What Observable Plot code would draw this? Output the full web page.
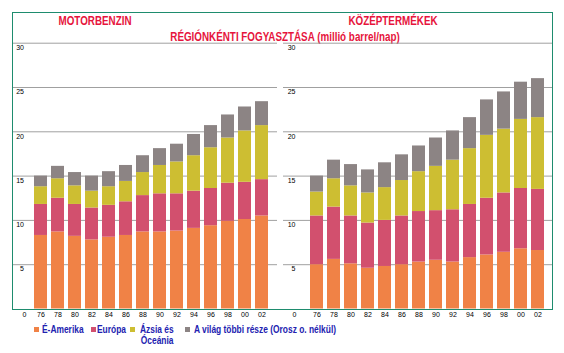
<!DOCTYPE html>
<html><head><meta charset="utf-8">
<script src="https://cdn.jsdelivr.net/npm/d3@7"></script>
<script src="https://cdn.jsdelivr.net/npm/@observablehq/plot@0.6"></script>
<style>
body{margin:0;background:#fff;}
#c{position:relative;width:564px;height:353px;overflow:hidden;font-family:"Liberation Sans",Arial,sans-serif;}
.t{position:absolute;font-weight:bold;color:#e6143c;font-size:12px;white-space:nowrap;transform:translateX(-50%) scaleX(0.82);line-height:1;}
.frame{position:absolute;left:12px;top:12px;width:539px;height:296px;border:1px solid #1e8c6e;pointer-events:none;}
.p{position:absolute;top:40px;}
.lg{position:absolute;font-weight:bold;color:#2222b0;font-size:10.5px;line-height:11px;white-space:nowrap;transform:scaleX(0.8);transform-origin:left top;}
.sq{position:absolute;width:5px;height:5px;}
</style>
</head><body>
<div id="c">
  <div class="t" style="left:95px;top:15px;">MOTORBENZIN</div>
  <div class="t" style="left:393px;top:15px;">KÖZÉPTERMÉKEK</div>
  <div class="t" style="left:285px;top:31px;">RÉGIÓNKÉNTI FOGYASZTÁSA (millió barrel/nap)</div>
  <div id="p1" class="p" style="left:12px;"></div>
  <div id="p2" class="p" style="left:282px;"></div>
  <div class="frame"></div>
  <div id="legend"></div>
</div>
<script>
const years = ["76","78","80","82","84","86","88","90","92","94","96","98","00","02"];
const regions = ["É-Amerika","Európa","Ázsia és Óceánia","A világ többi része (Orosz o. nélkül)"];
const colors = ["#f08246","#d2506e","#cdbe32","#8c8484"];
const yTicks = [5,10,15,20,25,30];

// MOTORBENZIN (million barrels/day)
const motorNA   = [8.3,8.7,8.2,7.8,8.1,8.3,8.7,8.7,8.8,9.1,9.4,9.9,10.1,10.5];
const motorEU   = [3.5,3.8,3.6,3.6,3.6,3.8,4.1,4.3,4.2,4.2,4.2,4.3,4.2,4.1];
const motorAsia = [2.0,2.2,2.1,1.9,2.1,2.3,2.6,3.2,3.6,4.0,4.6,5.1,5.8,6.1];
const motorRest = [1.2,1.4,1.5,1.7,1.7,1.8,1.9,1.9,2.0,2.4,2.5,2.6,2.7,2.7];

// KÖZÉPTERMÉKEK (middle distillates)
const midNA   = [5.0,5.6,5.1,4.6,4.8,5.0,5.3,5.5,5.3,5.8,6.1,6.4,6.8,6.6];
const midEU   = [5.5,5.9,5.4,5.1,5.2,5.5,5.7,5.6,5.9,6.0,6.4,6.7,6.8,6.9];
const midAsia = [2.7,3.2,3.4,3.4,3.7,4.0,4.5,5.0,5.6,6.3,7.1,7.2,7.8,8.1];
const midRest = [1.8,2.1,2.4,2.6,2.8,2.9,2.9,3.2,3.3,3.5,4.0,4.2,4.2,4.4];

function rows(seriesList){
  const out = [];
  seriesList.forEach((vals, si) => vals.forEach((v, i) => out.push({year: years[i], region: regions[si], value: v})));
  return out;
}

function panel(data, o){
  return Plot.plot({
    width: 270, height: 280,
    marginTop: 2.7, marginBottom: 11.5, marginLeft: o.ml, marginRight: o.mr,
    style: {background: "transparent", fontFamily: "'Liberation Sans', Arial, sans-serif", fontSize: "7px", color: "#000"},
    x: {domain: years, range: o.xr, paddingInner: 0.24, paddingOuter: 0.12, axis: null, label: null},
    y: {domain: [0, 30], axis: null, label: null},
    color: {domain: regions, range: colors},
    marks: [
      Plot.ruleY(yTicks, {stroke: "#a0a0a0", strokeWidth: 1}),
      Plot.barY(data, {x: "year", y: "value", fill: "region", order: regions}),
      Plot.text(yTicks, {y: d => d, text: d => String(d), frameAnchor: "left", dx: o.lx - o.ml, textAnchor: "end", dy: 4.5, fill: "#000"}),
      Plot.axisX({domain: years, tickSize: 0, tickPadding: 3, fill: "#000", label: null}),
      Plot.text(["0"], {text: d => d, frameAnchor: "bottom-left", dx: 10 - o.ml, dy: 8, fill: "#000"})
    ]
  });
}

document.getElementById("p1").append(panel(rows([motorNA, motorEU, motorAsia, motorRest]), {ml: 0, mr: 5, xr: [18.94, 258.56], lx: 11.5}));
document.getElementById("p2").append(panel(rows([midNA, midEU, midAsia, midRest]), {ml: 1, mr: 0, xr: [24.93, 265.07], lx: 13}));

// legend
const lg = document.getElementById("legend");
const items = [
  {sq: 34, tx: 42, lines: ["É-Amerika"]},
  {sq: 91, tx: 97, lines: ["Európa"]},
  {sq: 130, tx: 140, lines: ["Ázsia és", "Óceánia"]},
  {sq: 185, tx: 194, lines: ["A világ többi része (Orosz o. nélkül)"]}
];
items.forEach((it, i) => {
  const s = document.createElement("div");
  s.className = "sq"; s.style.left = it.sq + "px"; s.style.top = "327px"; s.style.background = colors[i];
  lg.append(s);
  const t = document.createElement("div");
  t.className = "lg"; t.style.left = it.tx + "px"; t.style.top = "324px";
  t.innerHTML = it.lines.map((l, j) => j ? `<span style="padding-left:1px">${l}</span>` : l).join("<br>");
  lg.append(t);
});
</script>
</body></html>
